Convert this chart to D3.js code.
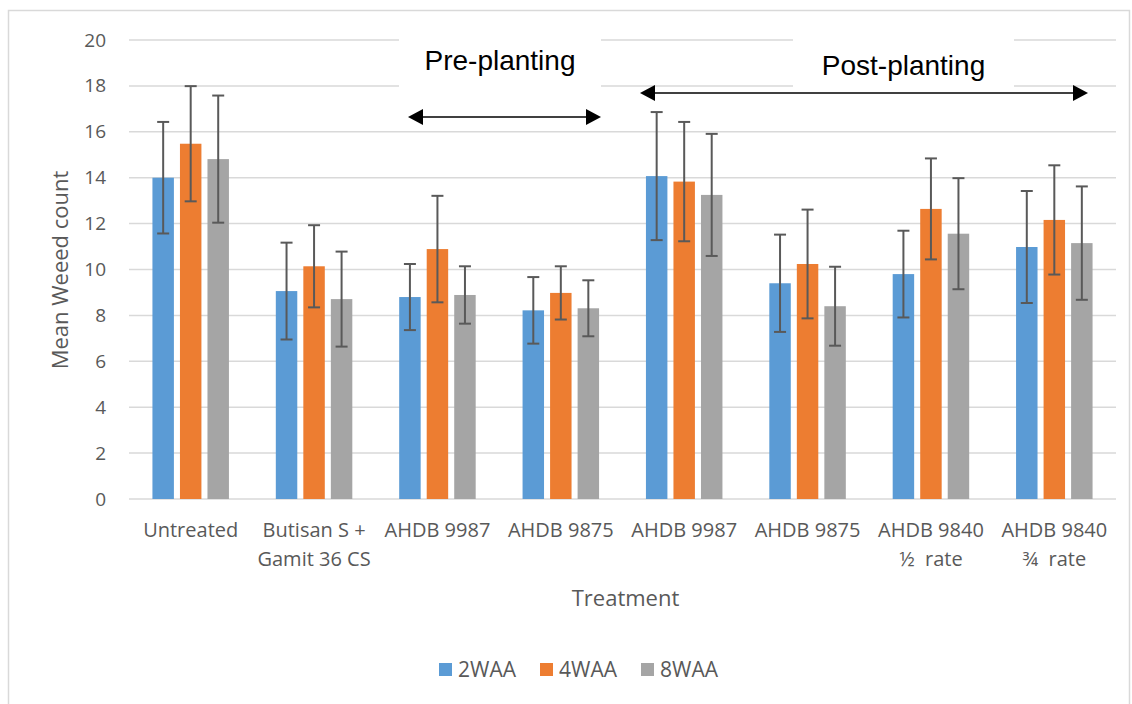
<!DOCTYPE html>
<html>
<head>
<meta charset="utf-8">
<script src="https://cdn.jsdelivr.net/npm/d3@7"></script>
<style>
  body { margin: 0; background: #fff; }
  svg { display: block; }
</style>
</head>
<body>
<div id="chart"></div>
<script>
// treatments along the x axis (second line after \n)
var categories = ["Untreated", "Butisan S +\nGamit 36 CS", "AHDB 9987", "AHDB 9875",
                  "AHDB 9987", "AHDB 9875", "AHDB 9840\n½  rate", "AHDB 9840\n¾  rate"];
var seriesNames = ["2WAA", "4WAA", "8WAA"];
var seriesColors = ["#5B9BD5", "#ED7D31", "#A5A5A5"];

// mean weed counts per series
var waa2 = [14.0, 9.06, 8.80, 8.22, 14.07, 9.40, 9.80, 10.98];
var waa4 = [15.48, 10.14, 10.89, 8.98, 13.83, 10.24, 12.64, 12.16];
var waa8 = [14.81, 8.71, 8.89, 8.31, 13.25, 8.40, 11.56, 11.15];

// error bar half-widths (+/-)
var err2 = [2.43, 2.11, 1.44, 1.45, 2.79, 2.12, 1.89, 2.44];
var err4 = [2.51, 1.79, 2.32, 1.16, 2.60, 2.37, 2.20, 2.38];
var err8 = [2.77, 2.07, 1.25, 1.22, 2.66, 1.72, 2.42, 2.47];

var yTicks = [0, 2, 4, 6, 8, 10, 12, 14, 16, 18, 20];

var W = 1132, H = 704;
var margin = {top: 40, right: 16, bottom: 205, left: 129};
var width = W - margin.left - margin.right,
    height = H - margin.top - margin.bottom;

var font = "'Open Sans', 'Noto Sans', sans-serif";
var textCol = "#595959";

var svg = d3.select("#chart").append("svg")
   .attr("width", W)
   .attr("height", H);

//outer chart frame
svg.append("rect")
   .attr("x", 8.5).attr("y", 10.5)
   .attr("width", 1121).attr("height", 700)
   .style("fill", "none")
   .style("stroke", "#d9d9d9")
   .style("stroke-width", 1.5);

var g = svg.append("g")
   .attr("transform", "translate(" + margin.left + "," + margin.top + ")");

var x0 = d3.scaleBand()
   .domain(d3.range(categories.length))
   .range([0, width])
   .padding(0);

var groupW = 76.5;
var x1 = d3.scaleBand()
   .domain(seriesNames)
   .range([(x0.bandwidth() - groupW) / 2, (x0.bandwidth() + groupW) / 2])
   .paddingInner(0.22);

var y = d3.scaleLinear()
   .domain([0, 20])
   .range([height, 0]);

var color = d3.scaleOrdinal().domain(seriesNames).range(seriesColors);

//gridlines
g.selectAll(".grid")
   .data(yTicks)
   .enter().append("line")
   .attr("x1", 0).attr("x2", width)
   .attr("y1", function(d) { return y(d); })
   .attr("y2", function(d) { return y(d); })
   .style("stroke", "#d9d9d9")
   .style("stroke-width", 1.5);

//y axis labels
var yAxis = d3.axisLeft(y).tickValues(yTicks).tickSize(0).tickPadding(23);
g.append("g").call(yAxis)
   .call(function(s) { s.select(".domain").remove(); })
   .selectAll("text")
   .style("font-family", font)
   .style("font-size", "19px")
   .style("fill", textCol);

//build series table
var values = [waa2, waa4, waa8];
var errs = [err2, err4, err8];
var rows = categories.map(function(c, i) {
  return seriesNames.map(function(s, j) {
    return {cat: i, key: s, value: values[j][i], err: errs[j][i]};
  });
});

var groups = g.selectAll(".grp")
   .data(rows)
   .enter().append("g")
   .attr("class", "grp")
   .attr("transform", function(d, i) { return "translate(" + x0(i) + ",0)"; });

groups.selectAll("rect")
   .data(function(d) { return d; })
   .enter().append("rect")
   .attr("x", function(d) { return x1(d.key); })
   .attr("width", x1.bandwidth())
   .attr("y", function(d) { return y(d.value); })
   .attr("height", function(d) { return height - y(d.value); })
   .style("fill", function(d) { return color(d.key); });

//error bars
var cap = 6;
var eb = groups.selectAll(".err")
   .data(function(d) { return d; })
   .enter().append("g")
   .attr("class", "err")
   .style("stroke", "#595959")
   .style("stroke-width", 2);
eb.append("line")
   .attr("x1", function(d) { return x1(d.key) + x1.bandwidth() / 2; })
   .attr("x2", function(d) { return x1(d.key) + x1.bandwidth() / 2; })
   .attr("y1", function(d) { return y(d.value + d.err); })
   .attr("y2", function(d) { return y(d.value - d.err); });
[1, -1].forEach(function(sign) {
  eb.append("line")
     .attr("x1", function(d) { return x1(d.key) + x1.bandwidth() / 2 - cap; })
     .attr("x2", function(d) { return x1(d.key) + x1.bandwidth() / 2 + cap; })
     .attr("y1", function(d) { return y(d.value + sign * d.err); })
     .attr("y2", function(d) { return y(d.value + sign * d.err); });
});

//x category labels
var xl = g.selectAll(".xlab")
   .data(categories)
   .enter().append("text")
   .attr("class", "xlab")
   .attr("text-anchor", "middle")
   .attr("transform", function(d, i) { return "translate(" + (x0(i) + x0.bandwidth() / 2) + "," + (height + 38) + ")"; })
   .style("font-family", font)
   .style("font-size", "20px")
   .style("white-space", "pre")
   .style("fill", textCol);
xl.selectAll("tspan")
   .data(function(d) { return d.split("\n"); })
   .enter().append("tspan")
   .attr("x", 0)
   .attr("dy", function(d, i) { return i ? 29 : 0; })
   .text(function(d) { return d; });

//axis titles
g.append("text")
   .text("Treatment")
   .attr("x", width / 2 + 3)
   .attr("y", height + 107)
   .attr("text-anchor", "middle")
   .style("font-family", font)
   .style("font-size", "22px")
   .style("fill", textCol);

svg.append("text")
   .text("Mean Weeed count")
   .attr("transform", "translate(68,270) rotate(-90)")
   .attr("text-anchor", "middle")
   .style("font-family", font)
   .style("font-size", "22px")
   .style("fill", textCol);

//pre / post planting annotations
var notes = [
  {label: "Pre-planting", box: [399, 601], textY: 70, arrow: [408, 601], arrowY: 117},
  {label: "Post-planting", box: [793, 1014], textY: 75, arrow: [640, 1088], arrowY: 93}
];
notes.forEach(function(n) {
  svg.append("rect")
     .attr("x", n.box[0]).attr("y", 32)
     .attr("width", n.box[1] - n.box[0]).attr("height", 58)
     .style("fill", "#fff");
  svg.append("text")
     .text(n.label)
     .attr("x", (n.box[0] + n.box[1]) / 2)
     .attr("y", n.textY)
     .attr("text-anchor", "middle")
     .style("font-family", "'Liberation Sans', Arial, sans-serif")
     .style("font-size", "28px")
     .style("fill", "#000");
  var head = 15, hw = 8;
  svg.append("line")
     .attr("x1", n.arrow[0] + head - 2).attr("x2", n.arrow[1] - head + 2)
     .attr("y1", n.arrowY).attr("y2", n.arrowY)
     .style("stroke", "#000")
     .style("stroke-width", 1.5);
  svg.append("path")
     .attr("d", "M" + n.arrow[0] + "," + n.arrowY + "L" + (n.arrow[0] + head) + "," + (n.arrowY - hw) +
                "L" + (n.arrow[0] + head) + "," + (n.arrowY + hw) + "Z")
     .style("fill", "#000");
  svg.append("path")
     .attr("d", "M" + n.arrow[1] + "," + n.arrowY + "L" + (n.arrow[1] - head) + "," + (n.arrowY - hw) +
                "L" + (n.arrow[1] - head) + "," + (n.arrowY + hw) + "Z")
     .style("fill", "#000");
});

//legend
var legX = [439, 540, 641];
var leg = svg.selectAll(".leg")
   .data(seriesNames)
   .enter().append("g")
   .attr("class", "leg")
   .attr("transform", function(d, i) { return "translate(" + legX[i] + ",663)"; });
leg.append("rect")
   .attr("width", 13).attr("height", 13)
   .style("fill", function(d) { return color(d); });
leg.append("text")
   .text(function(d) { return d; })
   .attr("x", 19)
   .attr("y", 14)
   .style("font-family", font)
   .style("font-size", "21px")
   .style("fill", textCol);
</script>
</body>
</html>
